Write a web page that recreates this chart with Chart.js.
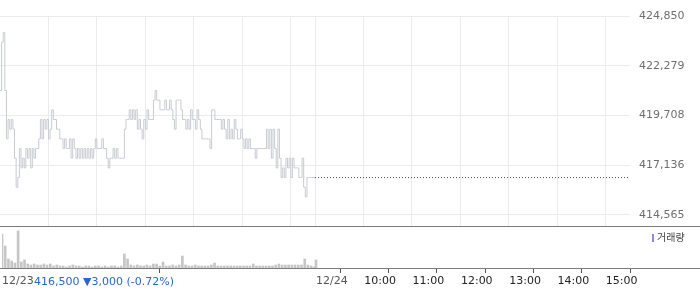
<!DOCTYPE html>
<html>
<head>
<meta charset="utf-8">
<script src="https://cdn.jsdelivr.net/npm/chart.js@4.4.1/dist/chart.umd.min.js"></script>
<style>
  body { margin: 0; background: #fff; }
  #wrap { position: relative; width: 700px; height: 289px; overflow: hidden; font-family: "DejaVu Sans", sans-serif; }
  .rule { position: absolute; left: 0; width: 700px; height: 1px; background: #7c7c7c; }
  #quote { position: absolute; left: 34px; top: 275px; font-size: 11px; line-height: 13px; color: #2a66d2; white-space: nowrap; }
  #legend { position: absolute; left: 652px; top: 231px; font-size: 10px; line-height: 12px; color: #444; font-family: "Noto Sans CJK KR", sans-serif; white-space: nowrap; }
  #legend i { display: inline-block; width: 2px; height: 8px; background: #9a86c8; margin-right: 3px; vertical-align: -1px; }
</style>
</head>
<body>
<div id="wrap">
  <canvas id="priceChart" width="700" height="226" style="position:absolute;left:0;top:0"></canvas>
  <div class="rule" style="top:226px"></div>
  <canvas id="volumeChart" width="700" height="62" style="position:absolute;left:0;top:227px"></canvas>
  <div class="rule" style="top:268px"></div>
  <div id="quote">416,500 ▼3,000 (-0.72%)</div>
  <div id="legend"><i></i>거래량</div>
</div>
<script>
// minutes counted from 12/23 09:00; 12/24 09:00 = 390, 15:30 = 780
const stepMin = 2;

// 12/23 intraday price, one value every 2 minutes
const prevPrices = [
  421000, 423500, 424000, 421000, 418500, 419500, 419000, 419500, 419000, 417500,
  416000, 416500, 418000, 417000, 417500, 417000, 418000, 417500, 418000, 417000,
  418000, 417500, 418000, 418000, 418500, 419500, 418500, 419500, 419000, 419500,
  418500, 419000, 420000, 419500, 419500, 419000, 419000, 418500, 418500, 418000,
  418500, 418000, 418000, 418500, 417500, 418500, 418000, 417500, 418000, 417500,
  418000, 417500, 418000, 417500, 418000, 417500, 418000, 417500, 418000, 418500,
  418000, 418000, 418000, 418500, 418000, 418000, 417500, 417000, 417500, 417500,
  418000, 417500, 418000, 417500, 417500, 417500, 417500, 419000, 419500, 419500,
  420000, 419500, 420000, 419500, 420000, 419000, 419500, 419000, 418500, 419500,
  419000, 420000, 419500, 419500, 419500, 420500, 421000, 420500, 420500, 420000,
  420000, 420000, 420500, 420000, 420000, 420500, 420000, 419500, 419000, 420500,
  420500, 420500, 420000, 419500, 419500, 419000, 419500, 419000, 420000, 419500,
  419500, 419000, 420000, 419500, 419000, 418500, 418500, 418500, 418500, 418500,
  418000, 420000, 420000, 419500, 419500, 419500, 419500, 419000, 419500, 419000,
  418500, 419500, 418500, 419000, 418500, 419500, 419000, 418500, 418500, 419000,
  418500, 418000, 418500, 418000, 418500, 418000, 418000, 418000, 417500, 418000,
  418000, 418000, 418000, 418000, 418000, 419000, 418000, 419000, 417500, 419000,
  418000, 417000, 419000, 417500, 416500, 417000, 416500, 417500, 417000, 417500,
  416500, 417500, 417000, 417000, 417000, 416500, 416500, 417500, 416000, 415500,
  416500, 416500, 416500, 416500, 416500
];
// 12/24 09:00 (first print of the day)
const todayMinute = 390;
const todayPrice = 416500;
const closeMinute = 780;

// volume, 4-minute buckets
const volStepMin = 4;
const prevVolumes = [
  34000, 22000, 9000, 7000, 5000, 37000, 6000, 8000, 4000, 3000,
  4000, 3000, 3000, 4000, 3000, 4000, 2000, 3000, 2000, 2000,
  1000, 2000, 3000, 2000, 2000, 1000, 2000, 2000, 1000, 2000,
  2000, 1000, 2000, 1000, 2000, 2000, 1000, 2000, 14000, 9000,
  3000, 2000, 3000, 2000, 2000, 3000, 2000, 4000, 4000, 2000,
  6000, 2000, 2000, 3000, 2000, 3000, 12000, 3000, 2000, 2000,
  3000, 2000, 2000, 2000, 2000, 3000, 5000, 2000, 2000, 2000,
  2000, 2000, 2000, 2000, 2000, 2000, 2000, 2000, 4000, 2000,
  2000, 2000, 2000, 2000, 2000, 3000, 4000, 3000, 3000, 3000,
  3000, 3000, 3000, 3000, 9000, 3000, 2000, 1000
];
const todayVolume = 8000;

const yTicks = [414565, 417136, 419708, 422279, 424850];
const gridMinutes = [60, 120, 180, 240, 300, 360, 390, 450, 510, 570, 630, 690, 750];
const xTickMinutes = [0, 390, 450, 510, 570, 630, 690, 750];
const xTickLabels = ['12/23', '12/24', '10:00', '11:00', '12:00', '13:00', '14:00', '15:00'];

const pricePoints = prevPrices.map((v, i) => ({ x: i * stepMin, y: v }));
pricePoints.push({ x: todayMinute, y: todayPrice });
const volumePoints = prevVolumes.map((v, i) => ({ x: i * volStepMin, y: v }));
volumePoints.push({ x: todayMinute, y: todayVolume });

const font11 = { family: 'DejaVu Sans', size: 11 };

new Chart(document.getElementById('priceChart'), {
  type: 'line',
  data: {
    datasets: [{
      data: pricePoints,
      borderColor: '#c8cbd2',
      borderWidth: 1,
      pointRadius: 0,
      stepped: true,
      fill: false
    }, {
      data: [{ x: todayMinute, y: todayPrice }, { x: closeMinute, y: todayPrice }],
      borderColor: '#4b5364',
      borderWidth: 1,
      borderDash: [1, 2],
      pointRadius: 0,
      fill: false
    }]
  },
  options: {
    responsive: false,
    maintainAspectRatio: false,
    animation: false,
    layout: { padding: { top: 16, left: 0, right: 0, bottom: 0 } },
    plugins: { legend: { display: false }, tooltip: { enabled: false } },
    scales: {
      x: {
        type: 'linear', min: 0, max: closeMinute,
        afterBuildTicks: s => { s.ticks = gridMinutes.map(v => ({ value: v })); },
        afterFit: s => { s.height = 0; },
        ticks: { display: false },
        grid: { color: '#ebebeb', drawTicks: false },
        border: { display: false }
      },
      y: {
        position: 'right', min: 413996, max: 424850,
        afterBuildTicks: s => { s.ticks = yTicks.map(v => ({ value: v })); },
        // keep the plot 70px short of the right edge and let it run to the bottom
        afterFit: s => { s.width = 70; s.paddingBottom = 0; },
        ticks: { padding: 9, color: '#6e6e6e', font: font11, callback: v => v.toLocaleString('en-US') },
        grid: { color: '#ebebeb', drawTicks: false },
        border: { display: false }
      }
    }
  }
});

new Chart(document.getElementById('volumeChart'), {
  type: 'bar',
  data: {
    datasets: [{
      data: volumePoints,
      backgroundColor: '#c6c6c6',
      barThickness: 2
    }]
  },
  options: {
    responsive: false,
    maintainAspectRatio: false,
    animation: false,
    layout: { padding: 0 },
    plugins: { legend: { display: false }, tooltip: { enabled: false } },
    scales: {
      x: {
        type: 'linear', min: 0, max: closeMinute, offset: false,
        afterBuildTicks: s => { s.ticks = xTickMinutes.map(v => ({ value: v })); },
        afterFit: s => { s.height = 21; },
        ticks: {
          align: 'start', padding: 2, maxRotation: 0, autoSkip: false, font: font11,
          color: c => (c.index < 2 ? '#555' : '#222'),
          callback: (v, i) => xTickLabels[i]
        },
        grid: { drawOnChartArea: false, drawTicks: true, tickLength: 5, tickColor: '#555' },
        border: { display: false }
      },
      y: {
        position: 'right', min: 0, max: 41000,
        afterFit: s => { s.width = 70; },
        ticks: { display: false },
        grid: { display: false },
        border: { display: false }
      }
    }
  }
});
</script>
</body>
</html>
